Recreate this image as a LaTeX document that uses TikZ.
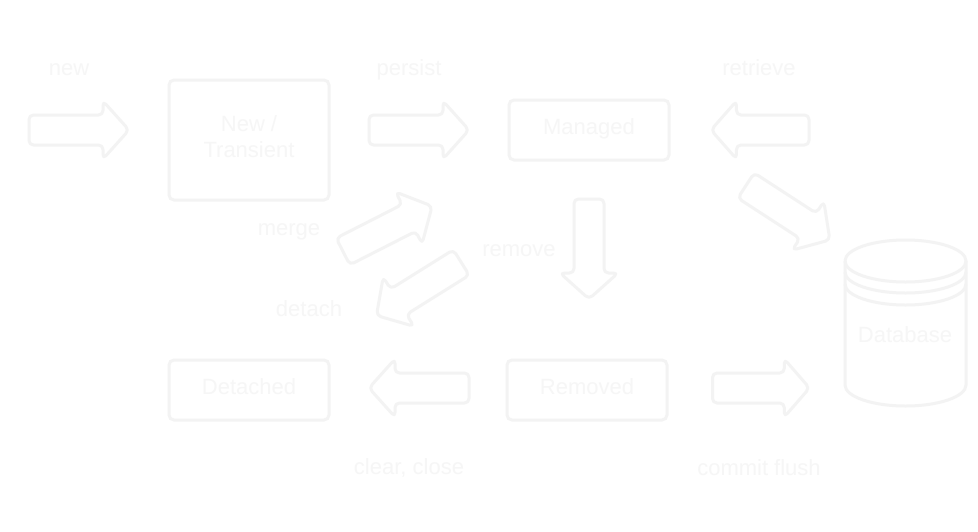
\documentclass[tikz,border=0pt]{standalone}
\usepackage{fontspec}
\setmainfont{Liberation Sans}
\definecolor{ghostline}{HTML}{F3F3F3}
\definecolor{ghostpale}{HTML}{F6F6F6}
\definecolor{ghosttext}{HTML}{F6F6F6}
\tikzset{
  x=1pt,y=-1pt,
  ghost/.style={draw=ghostline,line width=3pt},
  statebox/.style={ghost,rounded corners=5pt,inner sep=0pt},
  lbl/.style={text=ghosttext,inner sep=0pt,align=center,anchor=base,font=\fontsize{22}{26}\selectfont},
  blockarrow/.pic={
    \draw[ghost,rounded corners=4.5pt,line join=round,pic actions]
      (0,-15) -- (74,-15) -- (74,-29) -- (100,0) -- (74,29) -- (74,15) -- (0,15) -- cycle;
  }
}
\begin{document}
\begin{tikzpicture}
\useasboundingbox (0,0) rectangle (978,531);
\fill[white] (0,0) rectangle (978,531);
% states
\node[statebox,minimum width=160pt,minimum height=120pt] (transient) at (249,140) {};
\node[lbl] (transientnew) at (249,131) {New /};
\node[lbl] (transientlbl) at (249,157) {Transient};
\node[statebox,minimum width=160pt,minimum height=60pt] (managed) at (589,130) {};
\node[lbl] (managedlbl) at (589,134) {Managed};
\node[statebox,minimum width=160pt,minimum height=60pt] (detached) at (249,390) {};
\node[lbl] (detachedlbl) at (249,394) {Detached};
\node[statebox,minimum width=160pt,minimum height=60pt] (removed) at (587,390) {};
\node[lbl] (removedlbl) at (587,394) {Removed};
% arrows
\pic at (29,130) {blockarrow};
\pic at (369,130) {blockarrow};
\pic[rotate=180,xscale=.98] at (809,130) {blockarrow};
\pic[rotate=-33] at (746,185.5) {blockarrow};
\pic[rotate=-90] at (589,199) {blockarrow};
\pic[rotate=27] at (343,251.5) {blockarrow};
\pic[rotate=212] at (461.3,262.5) {blockarrow};
\pic[rotate=180] at (469,388) {blockarrow};
\pic[draw=ghostpale,xscale=.97] at (712.5,388) {blockarrow};
% database
\draw[ghost] (845,261) arc[x radius=60.5,y radius=21,start angle=180,end angle=-180];
\draw[ghost] (845,272) arc[x radius=60.5,y radius=21,start angle=180,end angle=0];
\draw[ghost] (845,284) arc[x radius=60.5,y radius=21,start angle=180,end angle=0];
\draw[ghost] (845,261) -- (845,385) arc[x radius=60.5,y radius=21,start angle=180,end angle=0] -- (966,261);
\node[lbl] (dblbl) at (905,342) {Database};
% labels
\node[lbl] (new) at (69,75) {new};
\node[lbl] (persist) at (409,75) {persist};
\node[lbl] (retrieve) at (759,75) {retrieve};
\node[lbl] (merge) at (289,235) {merge};
\node[lbl] (detach) at (309,316) {detach};
\node[lbl] (remove) at (519,256) {remove};
\node[lbl] (clear) at (409,474) {clear, close};
\node[lbl] (commit) at (759,475) {commit flush};
\end{tikzpicture}
\end{document}
